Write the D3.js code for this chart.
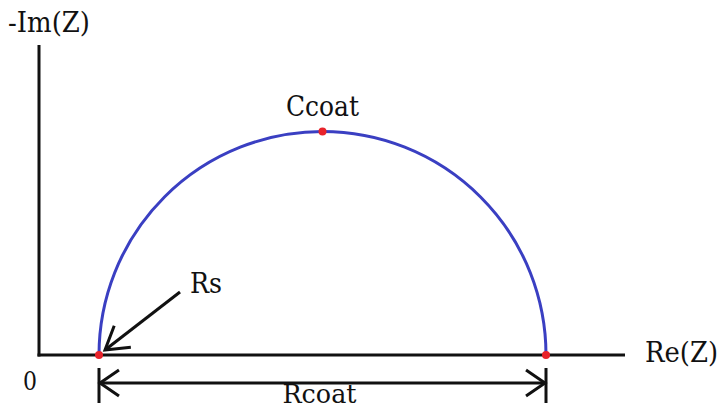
<!DOCTYPE html>
<html>
<head>
<meta charset="utf-8">
<script src="https://cdn.jsdelivr.net/npm/d3@7"></script>
<style>
  html, body { margin: 0; padding: 0; background: #fff; }
  svg { display: block; }
</style>
</head>
<body>
<svg id="chart" width="722" height="410"></svg>
<script>
// Equivalent-circuit parameters of the coating (arbitrary impedance units)
const Rs = 20;        // solution resistance
const Rcoat = 149;    // coating resistance
const axisMax = { re: 195, im: 103.3 };

// Characteristic points on the Nyquist plot
const markers = [
  { name: "Rs",    re: Rs,             im: 0 },
  { name: "Ccoat", re: Rs + Rcoat / 2, im: Rcoat / 2 },
  { name: "end",   re: Rs + Rcoat,     im: 0 }
];

const axisLabels = { x: "Re(Z)", y: "-Im(Z)", origin: "0" };

const svg = d3.select("#chart");

const x = d3.scaleLinear().domain([0, axisMax.re]).range([39, 624]);
const y = d3.scaleLinear().domain([0, axisMax.im]).range([355, 45]);

const ink = "#111";
const sw = 3;

// Axes
svg.append("line")
  .attr("x1", x(0)).attr("x2", x(0))
  .attr("y1", y(0) + sw / 2).attr("y2", y(axisMax.im))
  .attr("stroke", ink).attr("stroke-width", sw);
svg.append("line")
  .attr("x1", x(0) - sw / 2).attr("x2", x(axisMax.re) + 1)
  .attr("y1", y(0)).attr("y2", y(0))
  .attr("stroke", ink).attr("stroke-width", sw);

// Semicircle: Nyquist response of the Rs + (Rcoat || Ccoat) circuit
const cx = x(Rs + Rcoat / 2);
const r = x(Rs + Rcoat) - cx;
const arc = d3.path();
arc.moveTo(x(Rs), y(0));
arc.arc(cx, y(0), r, Math.PI, 2 * Math.PI, false);
svg.append("path")
  .attr("d", arc.toString())
  .attr("fill", "none")
  .attr("stroke", "#3a3fc2")
  .attr("stroke-width", 3);

// Dimension line for Rcoat
const dimY = 383;
[Rs, Rs + Rcoat].forEach(v => {
  svg.append("line")
    .attr("x1", x(v)).attr("x2", x(v))
    .attr("y1", 368).attr("y2", 403)
    .attr("stroke", ink).attr("stroke-width", sw);
});
svg.append("line")
  .attr("x1", x(Rs)).attr("x2", x(Rs + Rcoat))
  .attr("y1", dimY).attr("y2", dimY)
  .attr("stroke", ink).attr("stroke-width", sw);

function openHead(tipX, tipY, angle, len, spread) {
  // angle: direction the arrow points (radians)
  const back = angle + Math.PI;
  const pts = [back - spread, back + spread].map(a => [tipX + len * Math.cos(a), tipY + len * Math.sin(a)]);
  svg.append("path")
    .attr("d", `M${pts[0][0]},${pts[0][1]}L${tipX},${tipY}L${pts[1][0]},${pts[1][1]}`)
    .attr("fill", "none")
    .attr("stroke", ink).attr("stroke-width", sw)
    .attr("stroke-linejoin", "miter");
}
openHead(x(Rs) + 1, dimY, Math.PI, 23, 0.6);
openHead(x(Rs + Rcoat) - 1, dimY, 0, 23, 0.6);

// Pointer arrow to Rs
const tip = [x(Rs) + 6, y(0) - 5];
const tail = [180, 292];
svg.append("line")
  .attr("x1", tail[0]).attr("y1", tail[1])
  .attr("x2", tip[0]).attr("y2", tip[1])
  .attr("stroke", ink).attr("stroke-width", sw);
openHead(tip[0], tip[1], Math.atan2(tip[1] - tail[1], tip[0] - tail[0]), 26, 0.55);

// Marker dots
svg.selectAll("circle.pt")
  .data(markers)
  .join("circle")
  .attr("class", "pt")
  .attr("cx", d => x(d.re))
  .attr("cy", d => y(d.im))
  .attr("r", 4)
  .attr("fill", "#e8232b");

// Labels (serif face, fitted to a fixed width)
function label(tx, ty, size, anchor, str, width) {
  svg.append("text")
    .attr("x", tx).attr("y", ty)
    .style("font-family", "DejaVu Serif")
    .attr("font-size", size)
    .attr("fill", "#111")
    .attr("text-anchor", anchor)
    .attr("textLength", width)
    .attr("lengthAdjust", "spacingAndGlyphs")
    .text(str);
}
label(8, 32, 27, "start", axisLabels.y, 82);
label(645, 362, 27, "start", axisLabels.x, 73);
label(30, 390, 26, "middle", axisLabels.origin, 14);
label(cx, y(Rcoat / 2) - 15, 27, "middle", "Ccoat", 73);
label(190, 293, 27, "start", "Rs", 32);
label(cx - 3, 403, 26, "middle", "Rcoat", 74);
</script>
</body>
</html>
